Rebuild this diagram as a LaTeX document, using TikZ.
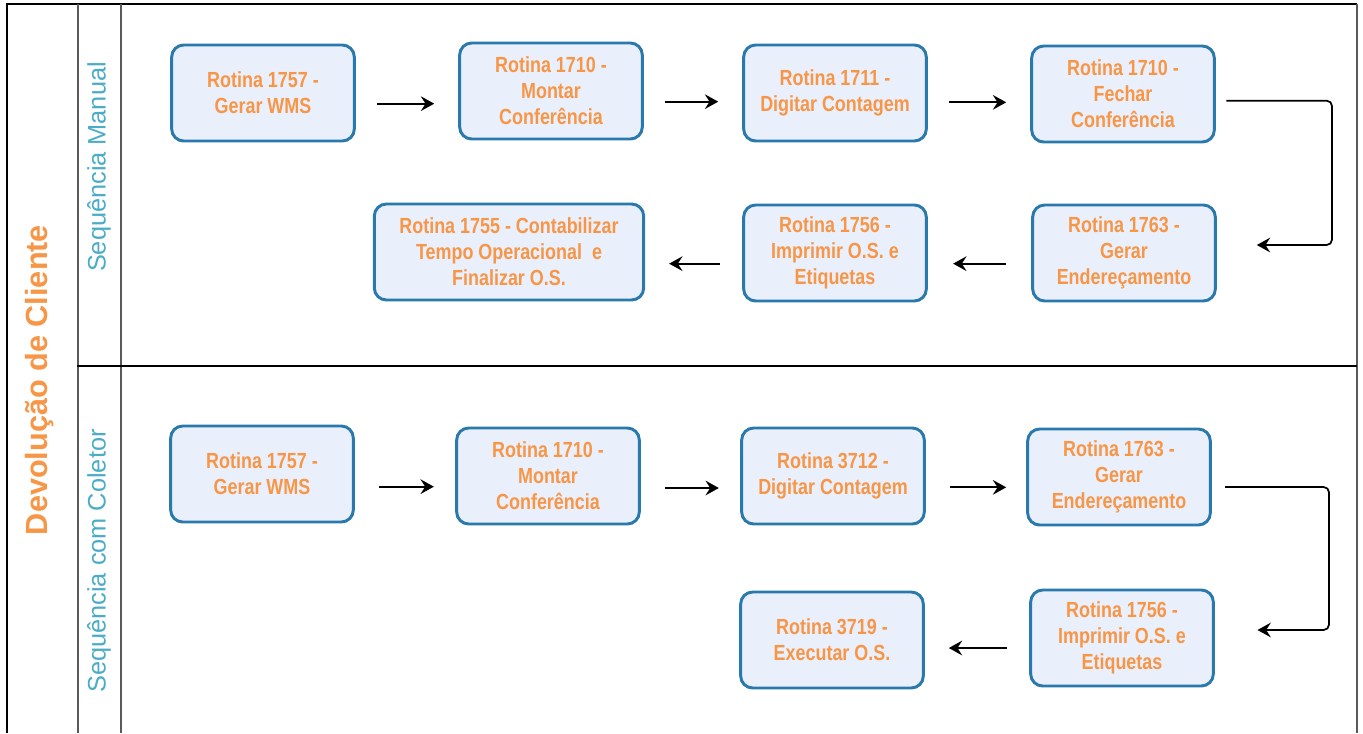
\documentclass[tikz,border=0pt]{standalone}
\usepackage{fontspec}
\setmainfont{Liberation Sans}
\newfontfamily\boxfont[FakeStretch=0.82]{Liberation Sans}
\usetikzlibrary{arrows.meta}
\definecolor{boxborder}{RGB}{41,121,172}
\definecolor{boxfill}{RGB}{234,239,252}
\definecolor{orangetxt}{RGB}{247,150,70}
\definecolor{lanetxt}{RGB}{75,172,198}
\definecolor{divgray}{RGB}{90,90,90}
\tikzset{
  stepbox/.style={draw=boxborder, line width=2.2pt, fill=boxfill, rounded corners=9pt,
    minimum width=137pt, minimum height=72pt, align=center, text=orangetxt,
    font=\boxfont\bfseries\fontsize{16.4}{19.5}\selectfont, inner sep=2pt},
  arr/.style={draw=black, line width=1.3pt, -{Stealth[length=10pt,width=11pt,inset=3.5pt]}},
  frame/.style={line width=1.3pt, draw=black},
  divider/.style={line width=1.1pt, draw=divgray},
  lanelabel/.style={rotate=90, text=lanetxt, font=\fontsize{19}{22}\selectfont},
  titlelabel/.style={rotate=90, text=orangetxt, font=\bfseries\fontsize{23}{28}\selectfont}
}
\begin{document}
\begin{tikzpicture}[x=0.75pt,y=-0.75pt]
\useasboundingbox (0,0) rectangle (1363,733);
% frame
\draw[frame] (7,733) -- (7,4) -- (1357,4);
\draw[divider] (78,4) -- (78,733);
\draw[divider] (121,4) -- (121,733);
\draw[divider] (1357,4) -- (1357,733);
\draw[frame] (77,366) -- (1357,366);
% labels
\node[titlelabel] (title) at (40,380) {Devolução de Cliente};
\node[lanelabel] (lane1) at (99,167) {Sequência Manual};
\node[lanelabel] (lane2) at (99,561) {Sequência com Coletor};
% top lane
\node[stepbox] (n1) at (263,93) {Rotina 1757 -\\Gerar WMS};
\node[stepbox] (n2) at (551,91) {Rotina 1710 -\\Montar\\Conferência};
\node[stepbox] (n3) at (835,93) {Rotina 1711 -\\Digitar Contagem};
\node[stepbox] (n4) at (1123,94) {Rotina 1710 -\\Fechar\\Conferência};
\node[stepbox] (n5) at (1124,253) {Rotina 1763 -\\Gerar\\Endereçamento};
\node[stepbox] (n6) at (835,253) {Rotina 1756 -\\Imprimir O.S. e\\Etiquetas};
\node[stepbox, minimum width=202pt] (n7) at (509,252) {Rotina 1755 - Contabilizar\\Tempo Operacional\ \ e\\Finalizar O.S.};
% bottom lane
\node[stepbox] (m1) at (262,474) {Rotina 1757 -\\Gerar WMS};
\node[stepbox] (m2) at (548,476) {Rotina 1710 -\\Montar\\Conferência};
\node[stepbox] (m3) at (833,476) {Rotina 3712 -\\Digitar Contagem};
\node[stepbox] (m4) at (1119,477) {Rotina 1763 -\\Gerar\\Endereçamento};
\node[stepbox] (m5) at (1122,638) {Rotina 1756 -\\Imprimir O.S. e\\Etiquetas};
\node[stepbox] (m6) at (832,640) {Rotina 3719 -\\Executar O.S.};
% elbow coordinates
\coordinate (e1) at (1332,0);
\coordinate (e2) at (1329,0);
% top lane arrows
\draw[arr, shorten <=16pt, shorten >=18pt] ([yshift=-8pt]n1.east) -- ([yshift=-8pt]n1.east -| n2.west);
\draw[arr, shorten <=16pt, shorten >=18pt] ([yshift=-8pt]n2.east) -- ([yshift=-8pt]n2.east -| n3.west);
\draw[arr, shorten <=16pt, shorten >=18pt] ([yshift=-7pt]n3.east) -- ([yshift=-7pt]n3.east -| n4.west);
\draw[arr, rounded corners=4pt, shorten <=8pt, shorten >=30pt]
  ([yshift=-5pt]n4.east) -- ([yshift=-5pt]n4.east -| e1) -- ([yshift=6pt]n5.east -| e1) -- ([yshift=6pt]n5.east);
\draw[arr, shorten <=19pt, shorten >=19pt] ([yshift=-8pt]n5.west) -- ([yshift=-8pt]n5.west -| n6.east);
\draw[arr, shorten <=17pt, shorten >=18pt] ([yshift=-8pt]n6.west) -- ([yshift=-8pt]n6.west -| n7.east);
% bottom lane arrows
\draw[arr, shorten <=18pt, shorten >=16pt] ([yshift=-9.5pt]m1.east) -- ([yshift=-9.5pt]m1.east -| m2.west);
\draw[arr, shorten <=18pt, shorten >=16pt] ([yshift=-9pt]m2.east) -- ([yshift=-9pt]m2.east -| m3.west);
\draw[arr, shorten <=18pt, shorten >=15pt] ([yshift=-8.5pt]m3.east) -- ([yshift=-8.5pt]m3.east -| m4.west);
\draw[arr, rounded corners=4pt, shorten <=10pt, shorten >=32pt]
  ([yshift=-7.5pt]m4.east) -- ([yshift=-7.5pt]m4.east -| e2) -- ([yshift=6pt]m5.east -| e2) -- ([yshift=6pt]m5.east);
\draw[arr, shorten <=17pt, shorten >=18pt] ([yshift=-7.5pt]m5.west) -- ([yshift=-7.5pt]m5.west -| m6.east);
\end{tikzpicture}
\end{document}
